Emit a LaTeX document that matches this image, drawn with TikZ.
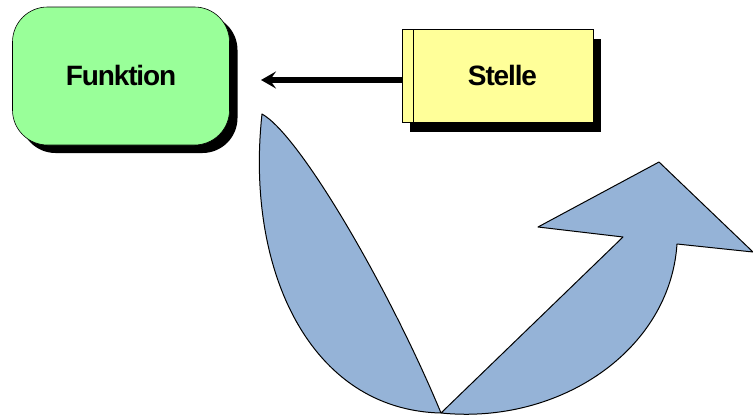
\documentclass[tikz,border=0pt]{standalone}
\usepackage{fontspec}
\setmainfont{Liberation Sans}
\usetikzlibrary{positioning, shadows, arrows.meta}
\definecolor{fkGreen}{HTML}{99FF99}
\definecolor{fkYellow}{HTML}{FFFF99}
\definecolor{fkBlue}{HTML}{95B3D7}

\begin{document}
\begin{tikzpicture}[x=1pt, y=-1pt,
  fbox/.style={draw, line width=0.6pt, rounded corners=35pt, fill=fkGreen, minimum width=217pt, minimum height=138pt,
    font=\fontsize{28}{30}\selectfont\bfseries\addfontfeature{LetterSpace=-4}, drop shadow={shadow xshift=8pt, shadow yshift=-8pt, fill=black, opacity=1}},
  sbox/.style={draw, line width=0.5pt, fill=fkYellow, minimum width=191pt, minimum height=93pt,
    font=\fontsize{28}{30}\selectfont\bfseries\addfontfeature{LetterSpace=-4}, drop shadow={shadow xshift=8pt, shadow yshift=-9pt, fill=black, opacity=1}},
  pfeil/.style={-{Stealth[length=15pt, width=17pt, inset=6pt]}, line width=5.5pt}
]
\useasboundingbox (0,0) rectangle (753,418);

\node[fbox] (funk) at (121,76) {\raisebox{2pt}{Funktion}};
\node[sbox] (stelle) at (497.5,76) {\hspace*{10pt}\raisebox{2pt}{Stelle}};
\draw[line width=0.5pt] ([xshift=11pt]stelle.north west) -- ([xshift=11pt]stelle.south west);

\coordinate (tip) at (261,80);
\draw[pfeil] (stelle.west |- tip) -- (tip);

% curved arrow
\draw[fill=fkBlue, line width=1pt, line join=round]
  (262,114) .. controls (245,270) and (310,410) .. (441,413)
  .. controls (560,425) and (670,350) .. (677,244)
  -- (753,252) -- (659,162) -- (538,227) -- (623,237) -- (441,413)
  .. controls (390,290) and (300,135) .. (262,114) -- cycle;
\end{tikzpicture}
\end{document}
